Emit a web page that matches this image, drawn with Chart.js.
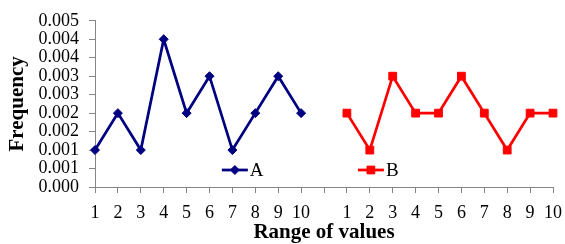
<!DOCTYPE html>
<html>
<head>
<meta charset="utf-8">
<script src="https://cdn.jsdelivr.net/npm/chart.js@4/dist/chart.umd.min.js"></script>
<style>
  html, body { margin: 0; padding: 0; background: #ffffff; }
  #wrap { width: 565px; height: 244px; position: relative; }
</style>
</head>
<body>
<div id="wrap"><canvas id="c"></canvas></div>
<script>
// ---- data ----
const categories = ['1','2','3','4','5','6','7','8','9','10','','1','2','3','4','5','6','7','8','9','10'];
const seriesNames = ['A', 'B'];
const seriesA = [0.001, 0.002, 0.001, 0.004, 0.002, 0.003, 0.001, 0.002, 0.003, 0.002];
const seriesB = [0.002, 0.001, 0.003, 0.002, 0.002, 0.003, 0.002, 0.001, 0.002, 0.002];
const yTickLabels = ['0.000','0.001','0.001','0.002','0.002','0.003','0.003','0.004','0.004','0.005'];
const yTitle = 'Frequency';
const xTitle = 'Range of values';

// ---- build ----
const gap = new Array(categories.length - seriesA.length).fill(null);
const dataA = seriesA.concat(gap);
const dataB = new Array(categories.length - seriesB.length).fill(null).concat(seriesB);

const SERIF = '"Liberation Serif", "Times New Roman", serif';
const AXIS_COLOR = '#868686';

const legendInside = {
  id: 'legendInside',
  afterDatasetsDraw(chart, args, opts) {
    const ctx = chart.ctx;
    const area = chart.chartArea;
    const y = area.bottom - opts.bottomOffset;
    chart.data.datasets.forEach((ds, i) => {
      const x0 = area.left + (area.right - area.left) * opts.starts[i];
      ctx.save();
      ctx.strokeStyle = ds.borderColor;
      ctx.lineWidth = ds.borderWidth;
      ctx.beginPath();
      ctx.moveTo(x0, y);
      ctx.lineTo(x0 + opts.lineLength, y);
      ctx.stroke();
      const cx = x0 + opts.lineLength / 2;
      const r = ds.pointRadius;
      ctx.fillStyle = ds.pointBackgroundColor;
      ctx.beginPath();
      if (ds.pointStyle === 'rectRot') {
        ctx.moveTo(cx - r, y); ctx.lineTo(cx, y - r); ctx.lineTo(cx + r, y); ctx.lineTo(cx, y + r);
      } else {
        const s = r * Math.SQRT1_2;
        ctx.rect(cx - s, y - s, 2 * s, 2 * s);
      }
      ctx.closePath();
      ctx.fill();
      ctx.lineWidth = 1;
      ctx.strokeStyle = ds.pointBorderColor;
      ctx.stroke();
      ctx.fillStyle = '#000000';
      ctx.font = opts.font;
      ctx.textBaseline = 'middle';
      ctx.textAlign = 'left';
      ctx.fillText(ds.label, x0 + opts.lineLength + 2, y + 1);
      ctx.restore();
    });
  }
};

new Chart(document.getElementById('c'), {
  type: 'line',
  data: {
    labels: categories,
    datasets: [
      {
        label: seriesNames[0],
        data: dataA,
        borderColor: '#000080',
        backgroundColor: '#000080',
        pointBackgroundColor: '#000080',
        pointBorderColor: '#000080',
        borderWidth: 2.75,
        pointStyle: 'rectRot',
        pointRadius: 4.5,
        pointBorderWidth: 1,
        tension: 0,
        spanGaps: false,
        fill: false
      },
      {
        label: seriesNames[1],
        data: dataB,
        borderColor: '#FF0000',
        backgroundColor: '#FF0000',
        pointBackgroundColor: '#FF0000',
        pointBorderColor: '#FF0000',
        borderWidth: 2.75,
        pointStyle: 'rect',
        pointRadius: 5.5,
        pointBorderWidth: 1,
        tension: 0,
        spanGaps: false,
        fill: false
      }
    ]
  },
  options: {
    responsive: true,
    maintainAspectRatio: false,
    animation: false,
    devicePixelRatio: 1,
    layout: { padding: { left: 0, right: 12, top: 16, bottom: 0 } },
    plugins: {
      legend: { display: false },
      tooltip: { enabled: false },
      legendInside: {
        starts: [0.277, 0.574],
        lineLength: 26,
        bottomOffset: 17,
        font: '19px ' + SERIF
      }
    },
    scales: {
      x: {
        type: 'category',
        offset: false,
        afterFit(scale) { scale.height = 57; scale.paddingRight = 0; scale.paddingLeft = 0; },
        grid: {
          drawOnChartArea: false,
          drawTicks: true,
          tickLength: 6,
          color: AXIS_COLOR,
          lineWidth: 1
        },
        border: { display: true, color: AXIS_COLOR, width: 1 },
        ticks: {
          autoSkip: false,
          maxRotation: 0,
          minRotation: 0,
          padding: 9,
          color: '#000000',
          font: { family: SERIF, size: 18 }
        },
        title: {
          display: true,
          text: xTitle,
          color: '#000000',
          font: { family: SERIF, size: 21, weight: 'bold', lineHeight: 1 },
          padding: { top: 0, bottom: 1 }
        }
      },
      y: {
        min: 0,
        max: 0.0045,
        afterFit(scale) { scale.width = 95; },
        grid: {
          drawOnChartArea: false,
          drawTicks: true,
          tickLength: 6,
          color: AXIS_COLOR,
          lineWidth: 1
        },
        border: { display: true, color: AXIS_COLOR, width: 1 },
        ticks: {
          autoSkip: false,
          stepSize: 0.0005,
          padding: 10,
          color: '#000000',
          font: { family: SERIF, size: 18 },
          callback: (value, index) => yTickLabels[index]
        },
        title: {
          display: true,
          text: yTitle,
          color: '#000000',
          font: { family: SERIF, size: 21, weight: 'bold', lineHeight: 1 },
          padding: { top: 7, bottom: 0 }
        }
      }
    }
  },
  plugins: [legendInside]
});
</script>
</body>
</html>
